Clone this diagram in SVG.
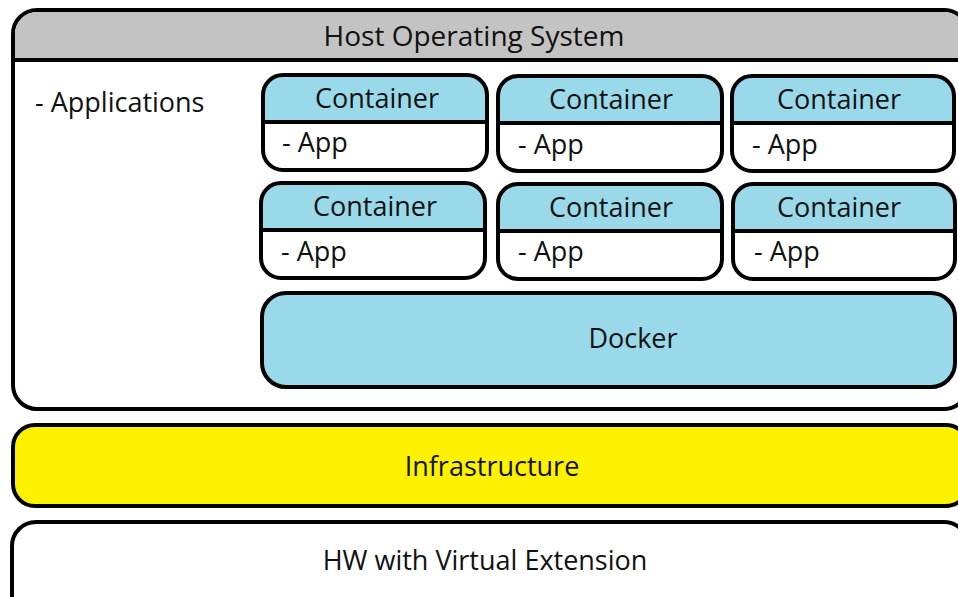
<svg xmlns="http://www.w3.org/2000/svg" width="958" height="597" viewBox="0 0 958 597">
<defs>
<style>
.box{stroke:#000;stroke-width:4;fill:#fff}
.ln{stroke:#000;stroke-width:4}
.t{font-family:"Open Sans","Liberation Sans",sans-serif;font-size:27px;fill:#111}
.c{text-anchor:middle}
.blue{fill:#99D9EA}
</style>
</defs>
<g id="host">
<rect class="box" x="13" y="10" width="955" height="399" rx="24"/>
<path d="M15,60 V34 A22,22 0 0 1 37,12 H944 A22,22 0 0 1 966,34 V60 Z" fill="#C3C3C3"/>
<line class="ln" x1="13" y1="60" x2="968" y2="60"/>
<text class="t c" x="474" y="46" style="font-size:28px">Host Operating System</text>
<text class="t" x="35" y="112">- Applications</text>
</g>
<g id="container-1" transform="translate(263,75)">
<path class="blue" d="M0,47 V18 A18,18 0 0 1 18,0 H206 A18,18 0 0 1 224,18 V47 Z"/>
<rect x="0" y="0" width="224" height="95" rx="20" fill="none" stroke="#000" stroke-width="4"/>
<line class="ln" x1="0" y1="47" x2="224" y2="47"/>
<text class="t c" x="114" y="33">Container</text>
<text class="t" x="19" y="77">- App</text>
</g>
<g id="container-2" transform="translate(498,76)">
<path class="blue" d="M0,47 V18 A18,18 0 0 1 18,0 H206 A18,18 0 0 1 224,18 V47 Z"/>
<rect x="0" y="0" width="224" height="95" rx="20" fill="none" stroke="#000" stroke-width="4"/>
<line class="ln" x1="0" y1="47" x2="224" y2="47"/>
<text class="t c" x="113" y="33">Container</text>
<text class="t" x="20" y="78">- App</text>
</g>
<g id="container-3" transform="translate(732,76)">
<path class="blue" d="M0,47 V18 A18,18 0 0 1 18,0 H204 A18,18 0 0 1 222,18 V47 Z"/>
<rect x="0" y="0" width="222" height="95" rx="20" fill="none" stroke="#000" stroke-width="4"/>
<line class="ln" x1="0" y1="47" x2="222" y2="47"/>
<text class="t c" x="107" y="33">Container</text>
<text class="t" x="20" y="78">- App</text>
</g>
<g id="container-4" transform="translate(261,183)">
<path class="blue" d="M0,47 V18 A18,18 0 0 1 18,0 H206 A18,18 0 0 1 224,18 V47 Z"/>
<rect x="0" y="0" width="224" height="95" rx="20" fill="none" stroke="#000" stroke-width="4"/>
<line class="ln" x1="0" y1="47" x2="224" y2="47"/>
<text class="t c" x="114" y="33">Container</text>
<text class="t" x="20" y="78">- App</text>
</g>
<g id="container-5" transform="translate(498,184)">
<path class="blue" d="M0,47 V18 A18,18 0 0 1 18,0 H206 A18,18 0 0 1 224,18 V47 Z"/>
<rect x="0" y="0" width="224" height="95" rx="20" fill="none" stroke="#000" stroke-width="4"/>
<line class="ln" x1="0" y1="47" x2="224" y2="47"/>
<text class="t c" x="113" y="33">Container</text>
<text class="t" x="20" y="77">- App</text>
</g>
<g id="container-6" transform="translate(733,184)">
<path class="blue" d="M0,47 V18 A18,18 0 0 1 18,0 H204 A18,18 0 0 1 222,18 V47 Z"/>
<rect x="0" y="0" width="222" height="95" rx="20" fill="none" stroke="#000" stroke-width="4"/>
<line class="ln" x1="0" y1="47" x2="222" y2="47"/>
<text class="t c" x="106" y="33">Container</text>
<text class="t" x="21" y="77">- App</text>
</g>
<g id="docker">
<rect x="262" y="293" width="693" height="94" rx="24" fill="#99D9EA" stroke="#000" stroke-width="4"/>
<text class="t c" x="633" y="348">Docker</text>
</g>
<g id="infrastructure">
<rect x="13" y="425" width="955" height="81" rx="22" fill="#FFF200" stroke="#000" stroke-width="4"/>
<text class="t c" x="492" y="476">Infrastructure</text>
</g>
<g id="hw">
<rect class="box" x="12" y="522" width="956" height="100" rx="24"/>
<text class="t c" x="485" y="570">HW with Virtual Extension</text>
</g>
<g id="connectors"></g>
</svg>
